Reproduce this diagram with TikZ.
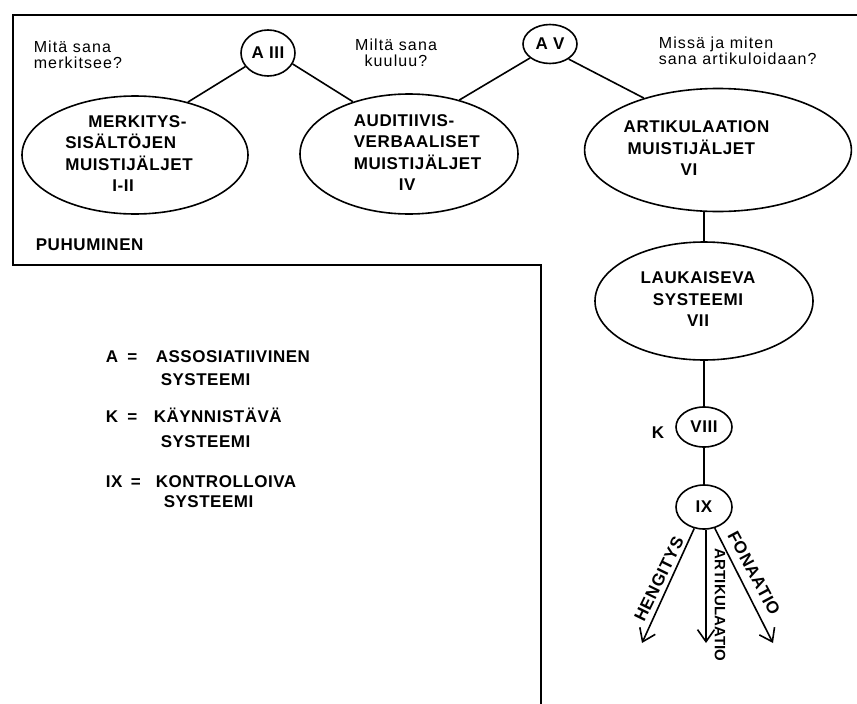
\documentclass[tikz,border=0pt]{standalone}
\usepackage{fontspec}
\setmainfont{Liberation Sans}
\newfontfamily\qfont[LetterSpace=7]{Liberation Sans}
\newfontfamily\efont[LetterSpace=3.5]{Liberation Sans}
\newfontfamily\lfont[LetterSpace=3]{Liberation Sans}
\newfontfamily\afont[LetterSpace=4]{Liberation Sans}
\newfontfamily\atfont[LetterSpace=1]{Liberation Sans}
\usetikzlibrary{arrows.meta,shapes.geometric}
\begin{document}
\begin{tikzpicture}[x=1pt,y=-1pt,line width=1.6pt,
  ell/.style={draw, ellipse, inner xsep=0pt, inner ysep=-5pt, font=\efont\bfseries\fontsize{17}{21.5}\selectfont},
  cir/.style={draw, ellipse, inner sep=0pt, font=\efont\bfseries\fontsize{17}{20}\selectfont},
  qtext/.style={inner sep=0pt, font=\qfont\fontsize{16}{16}\selectfont},
  legtext/.style={inner sep=0pt, anchor=base west, font=\lfont\bfseries\fontsize{17}{19}\selectfont},
  lbl/.style={inner sep=0pt, font=\efont\bfseries\fontsize{17}{20}\selectfont},
  arrlbl/.style={inner sep=0pt, font=\afont\bfseries\fontsize{17}{18}\selectfont},
  artlbl/.style={inner sep=0pt, font=\atfont\bfseries\fontsize{15}{18}\selectfont},
  arr/.style={-{Straight Barb[length=12pt,width=17pt]}},
]
\useasboundingbox (0,0) rectangle (857,704);

% frame
\draw (857,15) -- (13,15) -- (13,265) -- (541,265) -- (541,704);

% questions
\node[qtext, anchor=base west] (q1) at (33,52) {\begin{tabular}[t]{@{}l@{}}Mitä sana\\merkitsee?\end{tabular}};
\node[qtext, anchor=base] (q2) at (396,50) {\begin{tabular}[t]{@{}c@{}}Miltä sana\\kuuluu?\end{tabular}};
\node[qtext, anchor=base west] (q3) at (658,48) {\begin{tabular}[t]{@{}l@{}}Missä ja miten\\sana artikuloidaan?\end{tabular}};

% ellipses
\node[ell, minimum width=226pt, minimum height=118pt] (merk) at (135,155)
  {\begin{tabular}{@{}l@{}}\hspace*{23pt}MERKITYS-\\SISÄLTÖJEN\\MUISTIJÄLJET\\\hspace*{47pt}I-II\end{tabular}\hspace*{12pt}};
\node[ell, minimum width=218pt, minimum height=120pt] (aud) at (409,154)
  {\hspace*{17pt}\begin{tabular}{@{}l@{}}AUDITIIVIS-\\VERBAALISET\\MUISTIJÄLJET\\\hspace*{45pt}IV\end{tabular}};
\node[ell, minimum width=250pt, minimum height=123pt] (art) at (718,150)
  {\begin{tabular}{@{}l@{}}ARTIKULAATION\\\hspace*{4pt}MUISTIJÄLJET\\\hspace*{57pt}VI\end{tabular}\hspace*{43pt}};
\node[ell, minimum width=218pt, minimum height=118pt] (lauk) at (704,301)
  {\begin{tabular}{@{}c@{}}LAUKAISEVA\\SYSTEEMI\\VII\end{tabular}\hspace*{12pt}};

% circles
\node[cir, minimum width=54pt, minimum height=46pt] (aiii) at (268,53) {A III};
\node[cir, minimum width=54pt, minimum height=39pt] (av) at (550,44) {A V};
\node[cir, minimum width=56pt, minimum height=40pt] (viii) at (704,427) {VIII};
\node[cir, minimum width=56pt, minimum height=44pt] (ix) at (704,507) {IX};
\node[lbl] (k) at (658,433) {K};

\node[lbl, anchor=base west] (puh) at (35,250) {PUHUMINEN};

% connectors
\draw (aiii.211) -- (merk.45);
\draw (aiii.336) -- (aud.137);
\draw (av.215) -- (aud.47);
\draw (av.321) -- (art.145);
\draw (art.south -| lauk.north) -- (lauk.north);
\draw (lauk.south) -- (viii.north);
\draw (viii.south) -- (ix.north);

% arrows
\coordinate (htip) at (642,643);
\coordinate (atip) at (706,643);
\coordinate (ftip) at (773,643);
\draw[arr] (ix) -- (htip);
\draw[arr] (ix.south -| atip) -- (atip);
\draw[arr] (ix) -- (ftip);

\node[arrlbl, rotate=64] (hl) at (659,579) {HENGITYS};
\node[artlbl, rotate=-90] (al) at (720,605) {ARTIKULAATIO};
\node[arrlbl, rotate=-62] (fl) at (754,573) {FONAATIO};

% legend
\node[legtext] (l1a) at (105,362) {A\hspace{0.55em}=};
\node[legtext] (l1b) at (155,362) {ASSOSIATIIVINEN};
\node[legtext] (l1c) at (160,385) {SYSTEEMI};
\node[legtext] (l2a) at (105,422) {K\hspace{0.55em}=};
\node[legtext] (l2b) at (153,422) {KÄYNNISTÄVÄ};
\node[legtext] (l2c) at (160,447) {SYSTEEMI};
\node[legtext] (l3a) at (105,487) {IX\hspace{0.5em}=};
\node[legtext] (l3b) at (155,487) {KONTROLLOIVA};
\node[legtext] (l3c) at (163,507) {SYSTEEMI};
\end{tikzpicture}
\end{document}
